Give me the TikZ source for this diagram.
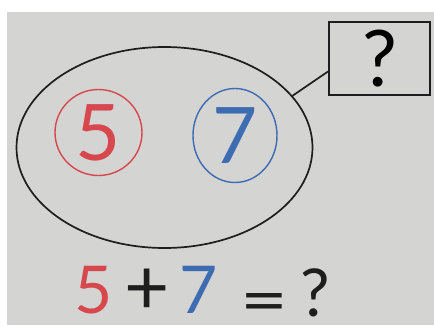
\documentclass[tikz,border=0pt]{standalone}
\usepackage{fontspec}
\newfontfamily\hand{Lato}
\usetikzlibrary{shapes.geometric,calc}
\definecolor{paper}{RGB}{212,212,210}
\definecolor{pen}{RGB}{30,30,30}
\definecolor{redpen}{RGB}{214,72,78}
\definecolor{bluepen}{RGB}{62,108,178}
\tikzset{
  penline/.style={draw=pen, line width=1.7pt},
  ring/.style={ellipse, line width=1.4pt, inner sep=0pt},
  bigdigit/.style={font=\hand\fontsize{78}{78}\selectfont},
  eqglyph/.style={font=\hand\fontsize{66}{66}\selectfont, inner sep=0pt}
}
\begin{document}
\begin{tikzpicture}[x=1pt,y=-1pt]
\fill[white] (0,0) rectangle (434,325);
\fill[paper] (7,12) rectangle (434,325);
\useasboundingbox (0,0) rectangle (434,325);
% big set
\node[ellipse, penline, minimum width=296pt, minimum height=201pt] (set) at (164.5,147.5) {};
% circled numbers
\node[ring, draw=redpen, text=redpen, bigdigit, minimum width=87pt, minimum height=86pt] (c5) at (98.5,132.5) {5};
\node[ring, draw=bluepen, text=bluepen, bigdigit, minimum width=84pt, minimum height=94pt] (c7) at (235,135.5) {7};
% answer box
\node[draw=pen, line width=2pt, minimum width=101pt, minimum height=73pt, bigdigit] (ans) at (379.5,58.5) {?};
\draw[penline] (set.22) -- ($(ans.west)+(0,13)$);
% equation
\node[eqglyph, anchor=base, text=redpen] (e5) at (93.5,313) {5};
\node[eqglyph, text=pen, font=\hand\fontsize{78}{78}\selectfont] (eplus) at (147,292) {+};
\node[eqglyph, anchor=base, text=bluepen] (e7) at (199,313) {7};
\node[eqglyph, text=pen, xscale=1.25] (eeq) at (264.5,308) {=};
\node[eqglyph, anchor=base, text=pen] (eq) at (315,316) {?};
\end{tikzpicture}
\end{document}
